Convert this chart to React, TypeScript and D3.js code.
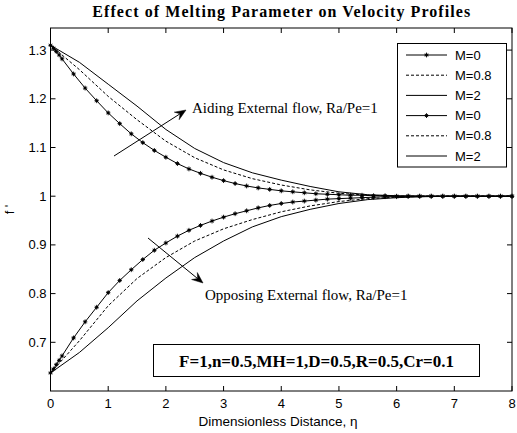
import React from "react";
import * as d3 from "d3";

// ---- data ----
const etaM0 = [0, 0.05, 0.1, 0.15, 0.2, 0.4, 0.6, 0.8, 1.0, 1.2, 1.4, 1.6, 1.8, 2.0, 2.2, 2.4, 2.6, 2.8, 3.0, 3.2, 3.4, 3.6, 3.8, 4.0, 4.2, 4.4, 4.6, 4.8, 5.0, 5.2, 5.4, 5.6, 5.8, 6.0, 6.2, 6.4, 6.6, 6.8, 7.0, 7.2, 7.4, 7.6, 7.8, 8.0];
const aidingM0 = [1.310, 1.304, 1.297, 1.290, 1.282, 1.251, 1.222, 1.196, 1.171, 1.149, 1.128, 1.110, 1.094, 1.080, 1.067, 1.056, 1.047, 1.039, 1.032, 1.026, 1.021, 1.017, 1.014, 1.011, 1.009, 1.007, 1.005, 1.004, 1.003, 1.002, 1.002, 1.001, 1.001, 1.000, 1.000, 1.000, 1.000, 1.000, 1.000, 1.000, 1.000, 1.000, 1.000, 1.000];
const opposingM0 = [0.637, 0.645, 0.654, 0.663, 0.672, 0.709, 0.742, 0.772, 0.802, 0.827, 0.849, 0.870, 0.889, 0.904, 0.918, 0.930, 0.940, 0.949, 0.957, 0.964, 0.970, 0.976, 0.981, 0.985, 0.988, 0.990, 0.992, 0.994, 0.995, 0.996, 0.997, 0.998, 0.999, 0.999, 1.000, 1.000, 1.000, 1.000, 1.000, 1.000, 1.000, 1.000, 1.000, 1.000];

const etaCoarse = [0, 0.5, 1.0, 1.5, 2.0, 2.5, 3.0, 3.5, 4.0, 4.5, 5.0, 5.5, 6.0, 6.5, 7.0, 7.5, 8.0];
const aidingM08 = [1.310, 1.260, 1.205, 1.157, 1.113, 1.079, 1.054, 1.036, 1.023, 1.013, 1.006, 1.002, 1.000, 1.000, 1.000, 1.000, 1.000];
const aidingM2 = [1.310, 1.275, 1.230, 1.185, 1.137, 1.098, 1.069, 1.048, 1.033, 1.020, 1.009, 1.003, 1.001, 1.000, 1.000, 1.000, 1.000];
const opposingM08 = [0.637, 0.703, 0.775, 0.831, 0.874, 0.908, 0.933, 0.952, 0.968, 0.980, 0.989, 0.995, 0.998, 1.000, 1.000, 1.000, 1.000];
const opposingM2 = [0.637, 0.679, 0.730, 0.785, 0.832, 0.874, 0.908, 0.937, 0.958, 0.973, 0.985, 0.993, 0.997, 0.999, 1.000, 1.000, 1.000];

const xTicks = [0, 1, 2, 3, 4, 5, 6, 7, 8];
const yTicks = [0.7, 0.8, 0.9, 1.0, 1.1, 1.2, 1.3];
const legendLabels = ["M=0", "M=0.8", "M=2", "M=0", "M=0.8", "M=2"];
const legendStyles = ["marker", "dashed", "solid", "marker", "dashed", "solid"];

const title = "Effect of Melting Parameter on Velocity Profiles";
const xLabel = "Dimensionless Distance, \u03b7";
const yLabel = "f '";
const aidingText = "Aiding External flow, Ra/Pe=1";
const opposingText = "Opposing External flow, Ra/Pe=1";
const paramText = "F=1,n=0.5,MH=1,D=0.5,R=0.5,Cr=0.1";

// ---- layout ----
const W = 517, H = 433;
const L = 50.5, R = 512, T = 28, B = 391;
const sans = "Arial, 'Liberation Sans', Helvetica, sans-serif";
const serif = "'Times New Roman', 'Liberation Serif', serif";

const x = d3.scaleLinear().domain([0, 8]).range([L, R]);
const y = d3.scaleLinear().domain([0.6, 0.6 + (B - T) / 487]).range([B, T]);

const mkLine = (xs: number[], ys: number[]) =>
  d3.line<number>().x((_, i) => x(xs[i])).y((d) => y(d))(ys) || "";

const starPath = "M-2.2,0H2.2M0,-2.4V2.4M-1.5,-1.5L1.5,1.5M-1.5,1.5L1.5,-1.5";

function Marker({ cx, cy }: { cx: number; cy: number }) {
  return (
    <g transform={`translate(${cx},${cy})`}>
      <path d={starPath} stroke="#000" strokeWidth={0.9} fill="none" />
      <circle r={1.3} fill="#000" />
    </g>
  );
}

function Arrow({ x1, y1, x2, y2 }: { x1: number; y1: number; x2: number; y2: number }) {
  const ang = Math.atan2(y2 - y1, x2 - x1);
  const len = 11, half = 4.5, notch = 7;
  const ux = Math.cos(ang), uy = Math.sin(ang);
  const px = -uy, py = ux;
  const bx = x2 - ux * len, by = y2 - uy * len;
  const nx = x2 - ux * notch, ny = y2 - uy * notch;
  const head = `M${x2},${y2}L${bx + px * half},${by + py * half}L${nx},${ny}L${bx - px * half},${by - py * half}Z`;
  return (
    <g>
      <line x1={x1} y1={y1} x2={nx} y2={ny} stroke="#000" strokeWidth={1} />
      <path d={head} fill="#000" stroke="#000" strokeWidth={0.5} />
    </g>
  );
}

export default function App() {
  const tick = 5;
  const legX = 397.5, legY = 43.5, legW = 109, legH = 123.5;
  return (
    <svg width={W} height={H} style={{ position: "absolute", left: 0, top: 0, background: "#fff" }}>
      <rect x={0} y={0} width={W} height={H} fill="#fff" />
      {/* title */}
      <text x={(L + R) / 2} y={16.5} textAnchor="middle" fontFamily={serif} fontWeight="bold" fontSize={16}
        textLength={378} lengthAdjust="spacing">
        {title}
      </text>

      {/* curves */}
      <g fill="none" stroke="#000" strokeWidth={1}>
        <path d={mkLine(etaCoarse, aidingM2)} />
        <path d={mkLine(etaCoarse, opposingM2)} />
        <path d={mkLine(etaCoarse, aidingM08)} strokeDasharray="3,2" />
        <path d={mkLine(etaCoarse, opposingM08)} strokeDasharray="3,2" />
        <path d={mkLine(etaM0, aidingM0)} />
        <path d={mkLine(etaM0, opposingM0)} />
      </g>
      {etaM0.map((e, i) => (
        <Marker key={"a" + i} cx={x(e)} cy={y(aidingM0[i])} />
      ))}
      {etaM0.map((e, i) => (
        <Marker key={"o" + i} cx={x(e)} cy={y(opposingM0[i])} />
      ))}

      {/* axes box */}
      <rect x={L} y={T} width={R - L} height={B - T} fill="none" stroke="#000" strokeWidth={1} />
      {xTicks.map((t) => (
        <g key={"xt" + t}>
          <line x1={x(t)} x2={x(t)} y1={B} y2={B - tick} stroke="#000" />
          <line x1={x(t)} x2={x(t)} y1={T} y2={T + tick} stroke="#000" />
          <text x={x(t)} y={B + 16.5} textAnchor="middle" fontFamily={sans} fontSize={13}>
            {t}
          </text>
        </g>
      ))}
      {yTicks.map((t) => (
        <g key={"yt" + t}>
          <line x1={L} x2={L + tick} y1={y(t)} y2={y(t)} stroke="#000" />
          <line x1={R} x2={R - tick} y1={y(t)} y2={y(t)} stroke="#000" />
          <text x={L - 4} y={y(t) + 4.5} textAnchor="end" fontFamily={sans} fontSize={13}>
            {d3.format("~g")(t)}
          </text>
        </g>
      ))}
      <text x={278} y={426} textAnchor="middle" fontFamily={sans} fontSize={13.5}>
        {xLabel}
      </text>
      <text transform={`translate(14,${(T + B) / 2}) rotate(-90)`} textAnchor="middle" fontFamily={sans} fontSize={13}>
        {yLabel}
      </text>

      {/* annotations */}
      <Arrow x1={114} y1={156} x2={186} y2={110} />
      <text x={192} y={113} fontFamily={serif} fontSize={15}>{aidingText}</text>
      <Arrow x1={148} y1={238} x2={203} y2={283} />
      <text x={205} y={299.5} fontFamily={serif} fontSize={15}>{opposingText}</text>

      <rect x={153.5} y={344.5} width={326} height={32} fill="#fff" stroke="#000" strokeWidth={1} />
      <text x={316.5} y={366.5} textAnchor="middle" fontFamily={serif} fontWeight="bold" fontSize={17}>
        {paramText}
      </text>

      {/* legend */}
      <rect x={legX} y={legY} width={legW} height={legH} fill="#fff" stroke="#000" strokeWidth={1} />
      {legendLabels.map((lab, i) => {
        const ly = 55 + i * 20.2;
        const st = legendStyles[i];
        return (
          <g key={"lg" + i}>
            <line x1={406} x2={447} y1={ly} y2={ly} stroke="#000" strokeWidth={1}
              strokeDasharray={st === "dashed" ? "3,2" : undefined} />
            {st === "marker" && <Marker cx={426.5} cy={ly} />}
            <text x={455} y={ly + 4.5} fontFamily={sans} fontSize={13}>{lab}</text>
          </g>
        );
      })}
    </svg>
  );
}
